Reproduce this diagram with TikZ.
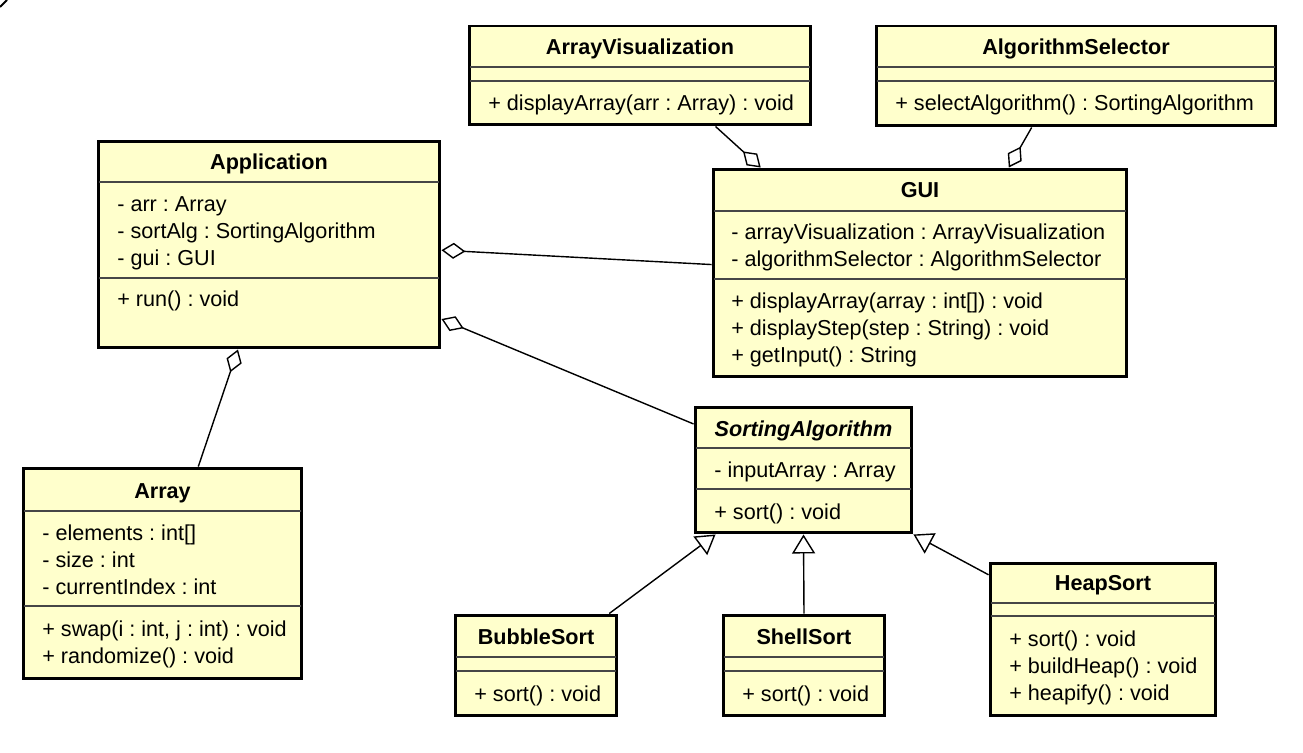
\documentclass[tikz,border=0pt]{standalone}
\usepackage{fontspec}
\setmainfont{Liberation Sans}
\usepackage{tikz}
\usetikzlibrary{arrows.meta}
\usetikzlibrary{calc}

\definecolor{ClassFill}{RGB}{255,255,204}
\definecolor{RuleGray}{RGB}{70,70,70}

\tikzset{
    classbox/.style={draw, fill=ClassFill, line width=1.7pt, inner sep=0pt, rectangle},
    divider/.style={draw=RuleGray, line width=0.6pt},
    title/.style={font=\bfseries, inner sep=0pt, text height=0.72em, text depth=0pt},
    member/.style={anchor=west, inner sep=0pt, text height=0.72em, text depth=0pt},
    aggr/.style={line width=0.8pt, {Diamond[fill=white, length=0.48cm, width=0.32cm]}-},
    realize/.style={line width=0.8pt, -{Triangle[fill=white, length=0.38cm, width=0.46cm]}},
}

\begin{document}
\frenchspacing
\fontsize{12.3}{15}\selectfont
\begin{tikzpicture}[x=0.02cm, y=-0.02cm]
        \useasboundingbox (0,0) rectangle (1303,753);

            % Corner mark
            \draw [line width=1.1pt] (0,7) -- (7,0);

            % ArrayVisualization
            \node[classbox, minimum width=6.84cm, minimum height=1.98cm] (arrvis) at (640,75.5) {};
            \draw[divider] (470,67) -- (810,67);
            \draw[divider] (470,81) -- (810,81);
            \node[title] (arrvis-t) at (640,47) {ArrayVisualization};
            \node[member] (arrvis-m1) at (488,103) {+ displayArray(arr : Array) : void};

            % AlgorithmSelector
            \node[classbox, minimum width=8cm, minimum height=2cm] (algsel) at (1076,76) {};
            \draw[divider] (877,67) -- (1275,67);
            \draw[divider] (877,81) -- (1275,81);
            \node[title] (algsel-t) at (1076,47) {AlgorithmSelector};
            \node[member] (algsel-m1) at (895,103) {+ selectAlgorithm() : SortingAlgorithm};

            % Application
            \node[classbox, minimum width=6.84cm, minimum height=4.14cm] (app) at (269,244.5) {};
            \draw[divider] (99,182) -- (439,182);
            \draw[divider] (99,278) -- (439,278);
            \node[title] (app-t) at (269,162) {Application};
            \foreach \txt [count=\i] in {{- arr : Array}, {- sortAlg : SortingAlgorithm}, {- gui : GUI}}
                \node[member] (app-a\i) at (117,177+27*\i) {\txt};
            \node[member] (app-m1) at (117,299) {+ run() : void};

            % GUI
            \node[classbox, minimum width=8.28cm, minimum height=4.16cm] (gui) at (920,273) {};
            \draw[divider] (714,211) -- (1126,211);
            \draw[divider] (714,279) -- (1126,279);
            \node[title] (gui-t) at (920,190) {GUI};
            \foreach \txt [count=\i] in {{- arrayVisualization : ArrayVisualization}, {- algorithmSelector : AlgorithmSelector}}
                \node[member] (gui-a\i) at (731,205+27*\i) {\txt};
            \foreach \txt [count=\i] in {{+ displayArray(array : int[]) : void}, {+ displayStep(step : String) : void}, {+ getInput() : String}}
                \node[member] (gui-m\i) at (731,273+27.3*\i) {\txt};

            % SortingAlgorithm
            \node[classbox, minimum width=4.34cm, minimum height=2.52cm] (sortalg) at (803.5,470) {};
            \draw[divider] (696,448) -- (911,448);
            \draw[divider] (696,489) -- (911,489);
            \node[title, font=\bfseries\itshape] (sortalg-t) at (803.5,429) {SortingAlgorithm};
            \node[member] (sortalg-a1) at (714,470) {- inputArray : Array};
            \node[member] (sortalg-m1) at (714,512) {+ sort() : void};

            % Array
            \node[classbox, minimum width=5.58cm, minimum height=4.22cm] (arr) at (162.5,573.5) {};
            \draw[divider] (24,511) -- (301,511);
            \draw[divider] (24,606) -- (301,606);
            \node[title] (arr-t) at (162.5,491) {Array};
            \foreach \txt [count=\i] in {{- elements : int[]}, {- size : int}, {- currentIndex : int}}
                \node[member] (arr-a\i) at (42,506+27*\i) {\txt};
            \foreach \txt [count=\i] in {{+ swap(i : int, j : int) : void}, {+ randomize() : void}}
                \node[member] (arr-m\i) at (42,602+27*\i) {\txt};

            % BubbleSort
            \node[classbox, minimum width=3.24cm, minimum height=2.02cm] (bubble) at (536,665.5) {};
            \draw[divider] (456,657) -- (616,657);
            \draw[divider] (456,671) -- (616,671);
            \node[title] (bubble-t) at (536,637) {BubbleSort};
            \node[member] (bubble-m1) at (474,694) {+ sort() : void};

            % ShellSort
            \node[classbox, minimum width=3.24cm, minimum height=2.02cm] (shell) at (804,665.5) {};
            \draw[divider] (724,657) -- (884,657);
            \draw[divider] (724,671) -- (884,671);
            \node[title] (shell-t) at (804,637) {ShellSort};
            \node[member] (shell-m1) at (742,694) {+ sort() : void};

            % HeapSort
            \node[classbox, minimum width=4.52cm, minimum height=3.06cm] (heap) at (1103,639.5) {};
            \draw[divider] (991,603) -- (1215,603);
            \draw[divider] (991,616) -- (1215,616);
            \node[title] (heap-t) at (1103,583) {HeapSort};
            \foreach \txt [count=\i] in {{+ sort() : void}, {+ buildHeap() : void}, {+ heapify() : void}}
                \node[member] (heap-m\i) at (1009,612+27*\i) {\txt};

            % Aggregations
            \draw[aggr] ($(app.north east)!0.527!(app.south east)$) -- ($(gui.north west)!0.46!(gui.south west)$);
            \draw[aggr] ($(app.north east)!0.855!(app.south east)$) -- ($(sortalg.north west)!0.143!(sortalg.south west)$);
            \draw[aggr] ($(app.south west)!0.41!(app.south east)$) -- ($(arr.north west)!0.627!(arr.north east)$);
            \draw[aggr] ($(gui.north west)!0.118!(gui.north east)$) -- ($(arrvis.south west)!0.719!(arrvis.south east)$);
            \draw[aggr] ($(gui.north west)!0.713!(gui.north east)$) -- ($(algsel.south west)!0.39!(algsel.south east)$);

            % Generalisations
            \draw[realize] ($(bubble.north west)!0.944!(bubble.north east)$) -- ($(sortalg.south west)!0.10!(sortalg.south east)$);
            \draw[realize] (shell.north) -- (sortalg.south);
            \draw[realize] ($(heap.north west)!0.085!(heap.south west)$) -- (sortalg.south east);
        \end{tikzpicture}
\end{document}
